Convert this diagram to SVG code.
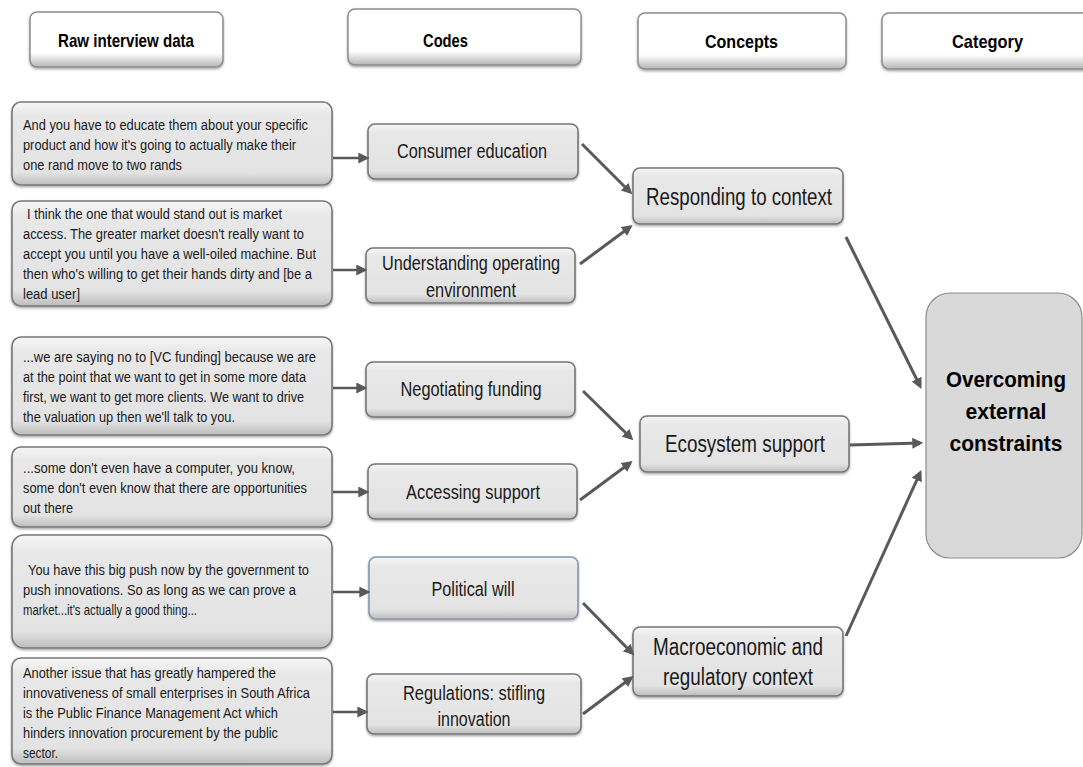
<svg xmlns="http://www.w3.org/2000/svg" width="1083" height="767" viewBox="0 0 1083 767">
<defs>
<linearGradient id="gHead" x1="0" y1="0" x2="0" y2="1">
<stop offset="0" stop-color="#ffffff"/>
<stop offset="0.75" stop-color="#ffffff"/>
<stop offset="1" stop-color="#b5b5b5"/>
</linearGradient>
<linearGradient id="gBox" x1="0" y1="0" x2="0" y2="1">
<stop offset="0" stop-color="#f6f6f6"/>
<stop offset="0.15" stop-color="#e8e8e8"/>
<stop offset="0.85" stop-color="#e3e3e3"/>
<stop offset="1" stop-color="#bdbdbd"/>
</linearGradient>
<filter id="sh" x="-5%" y="-10%" width="110%" height="130%">
<feDropShadow dx="0" dy="1.5" stdDeviation="1.2" flood-color="#000" flood-opacity="0.35"/>
</filter>
<marker id="ah" viewBox="0 0 10 10" refX="7" refY="5" markerWidth="11" markerHeight="11" markerUnits="userSpaceOnUse" orient="auto">
<path d="M0,0 L10,5 L0,10 z" fill="#595959"/>
</marker>
<style>
.hd{fill:url(#gHead);stroke:#8c8c8c;stroke-width:1.5;filter:url(#sh)}
.bx{fill:url(#gBox);stroke:#777777;stroke-width:1.6;filter:url(#sh)}
.ht{font-family:"Liberation Sans Narrow","Liberation Sans",Arial,sans-serif;font-weight:bold;font-size:19px;fill:#000}
.qt{font-family:"Liberation Sans Narrow","Liberation Sans",Arial,sans-serif;font-size:15.5px;fill:#1a1a1a}
.ct{font-family:"Liberation Sans Narrow","Liberation Sans",Arial,sans-serif;font-size:20px;fill:#1a1a1a;text-anchor:middle}
.kt{font-family:"Liberation Sans Narrow","Liberation Sans",Arial,sans-serif;font-size:23px;fill:#1a1a1a;text-anchor:middle}
.bt{font-family:"Liberation Sans Narrow","Liberation Sans",Arial,sans-serif;font-weight:bold;font-size:22px;fill:#000;text-anchor:middle}
.cn line{stroke:#595959;stroke-width:3;marker-end:url(#ah)}
.cn line.s{stroke-width:2.5}
</style>
</defs>

<g id="h-raw"><rect class="hd" x="30" y="12" width="193" height="55" rx="7"/><text class="ht" x="58" y="47" textLength="136" lengthAdjust="spacingAndGlyphs">Raw interview data</text></g>
<g id="h-codes"><rect class="hd" x="348" y="9" width="233" height="56" rx="7"/><text class="ht" x="423" y="47" textLength="45" lengthAdjust="spacingAndGlyphs">Codes</text></g>
<g id="h-concepts"><rect class="hd" x="638" y="13" width="208" height="56" rx="7"/><text class="ht" x="705" y="48" textLength="73" lengthAdjust="spacingAndGlyphs">Concepts</text></g>
<g id="h-category"><rect class="hd" x="882" y="13" width="215" height="56" rx="7"/><text class="ht" x="952" y="48" textLength="71" lengthAdjust="spacingAndGlyphs">Category</text></g>

<g id="q1"><rect class="bx" x="12" y="102" width="320" height="83" rx="9"/>
<text class="qt"><tspan x="23" y="130" textLength="285" lengthAdjust="spacingAndGlyphs">And you have to educate them about your specific</tspan><tspan x="23" y="150" textLength="273" lengthAdjust="spacingAndGlyphs">product and how it's going to actually make their</tspan><tspan x="23" y="170" textLength="159" lengthAdjust="spacingAndGlyphs">one rand move to two rands</tspan></text></g>

<g id="q2"><rect class="bx" x="12" y="201" width="320" height="105" rx="9"/>
<text class="qt"><tspan x="27" y="219" textLength="255" lengthAdjust="spacingAndGlyphs">I think the one that would stand out is market</tspan><tspan x="23" y="239" textLength="281" lengthAdjust="spacingAndGlyphs">access. The greater market doesn't really want to</tspan><tspan x="23" y="259" textLength="293" lengthAdjust="spacingAndGlyphs">accept you until you have a well-oiled machine. But</tspan><tspan x="23" y="279" textLength="289" lengthAdjust="spacingAndGlyphs">then who's willing to get their hands dirty and [be a</tspan><tspan x="23" y="299" textLength="57" lengthAdjust="spacingAndGlyphs">lead user]</tspan></text></g>

<g id="q3"><rect class="bx" x="12" y="337" width="320" height="98" rx="9"/>
<text class="qt"><tspan x="23" y="362" textLength="293" lengthAdjust="spacingAndGlyphs">...we are saying no to [VC funding] because we are</tspan><tspan x="23" y="382" textLength="283" lengthAdjust="spacingAndGlyphs">at the point that we want to get in some more data</tspan><tspan x="23" y="402" textLength="281" lengthAdjust="spacingAndGlyphs">first, we want to get more clients. We want to drive</tspan><tspan x="23" y="422" textLength="212" lengthAdjust="spacingAndGlyphs">the valuation up then we'll talk to you.</tspan></text></g>

<g id="q4"><rect class="bx" x="12" y="447" width="320" height="80" rx="9"/>
<text class="qt"><tspan x="23" y="473" textLength="272" lengthAdjust="spacingAndGlyphs">...some don't even have a computer, you know,</tspan><tspan x="23" y="493" textLength="284" lengthAdjust="spacingAndGlyphs">some don't even know that there are opportunities</tspan><tspan x="23" y="513" textLength="50" lengthAdjust="spacingAndGlyphs">out there</tspan></text></g>

<g id="q5"><rect class="bx" x="12" y="535" width="320" height="113" rx="12"/>
<text class="qt"><tspan x="28" y="575" textLength="281" lengthAdjust="spacingAndGlyphs">You have this big push now by the government to</tspan><tspan x="23" y="595" textLength="273" lengthAdjust="spacingAndGlyphs">push innovations. So as long as we can prove a</tspan><tspan x="23" y="615" textLength="174" lengthAdjust="spacingAndGlyphs">market...it's actually a good thing...</tspan></text></g>

<g id="q6"><rect class="bx" x="12" y="658" width="320" height="106" rx="9"/>
<text class="qt"><tspan x="23" y="678" textLength="253" lengthAdjust="spacingAndGlyphs">Another issue that has greatly hampered the</tspan><tspan x="23" y="698" textLength="287" lengthAdjust="spacingAndGlyphs">innovativeness of small enterprises in South Africa</tspan><tspan x="23" y="718" textLength="255" lengthAdjust="spacingAndGlyphs">is the Public Finance Management Act which</tspan><tspan x="23" y="738" textLength="255" lengthAdjust="spacingAndGlyphs">hinders innovation procurement by the public</tspan><tspan x="23" y="758" textLength="35" lengthAdjust="spacingAndGlyphs">sector.</tspan></text></g>

<g id="c-consumer"><rect class="bx" x="368" y="124" width="210" height="55" rx="7"/><text class="ct" x="472" y="158" textLength="150" lengthAdjust="spacingAndGlyphs">Consumer education</text></g>
<g id="c-understanding"><rect class="bx" x="366" y="248" width="209" height="55" rx="7"/><text class="ct"><tspan x="471" y="270" textLength="178" lengthAdjust="spacingAndGlyphs">Understanding operating</tspan><tspan x="471" y="297" textLength="90" lengthAdjust="spacingAndGlyphs">environment</tspan></text></g>
<g id="c-negotiating"><rect class="bx" x="366" y="362" width="209" height="55" rx="7"/><text class="ct" x="471" y="396" textLength="141" lengthAdjust="spacingAndGlyphs">Negotiating funding</text></g>
<g id="c-accessing"><rect class="bx" x="368" y="464" width="209" height="55" rx="7"/><text class="ct" x="473" y="499" textLength="134" lengthAdjust="spacingAndGlyphs">Accessing support</text></g>
<g id="c-political"><rect class="bx" x="369" y="557" width="209" height="62" rx="7" style="stroke:#8594ad"/><text class="ct" x="473" y="596" textLength="83" lengthAdjust="spacingAndGlyphs">Political will</text></g>
<g id="c-regulations"><rect class="bx" x="367" y="674" width="214" height="60" rx="7"/><text class="ct"><tspan x="474" y="700" textLength="142" lengthAdjust="spacingAndGlyphs">Regulations: stifling</tspan><tspan x="474" y="726" textLength="73" lengthAdjust="spacingAndGlyphs">innovation</tspan></text></g>

<g id="k-responding"><rect class="bx" x="633" y="168" width="210" height="56" rx="7"/><text class="kt" x="739" y="205" textLength="186" lengthAdjust="spacingAndGlyphs">Responding to context</text></g>
<g id="k-ecosystem"><rect class="bx" x="640" y="416" width="209" height="56" rx="7"/><text class="kt" x="745" y="452" textLength="160" lengthAdjust="spacingAndGlyphs">Ecosystem support</text></g>
<g id="k-macro"><rect class="bx" x="633" y="627" width="210" height="69" rx="7"/><text class="kt"><tspan x="738" y="655" textLength="170" lengthAdjust="spacingAndGlyphs">Macroeconomic and</tspan><tspan x="738" y="685" textLength="150" lengthAdjust="spacingAndGlyphs">regulatory context</tspan></text></g>

<g id="cat-overcoming"><rect x="926" y="293" width="156" height="265" rx="24" fill="#d9d9d9" stroke="#8c8c8c" stroke-width="1.2"/>
<text class="bt"><tspan x="1006" y="387" textLength="120" lengthAdjust="spacingAndGlyphs">Overcoming</tspan><tspan x="1006" y="419" textLength="81" lengthAdjust="spacingAndGlyphs">external</tspan><tspan x="1006" y="451" textLength="113" lengthAdjust="spacingAndGlyphs">constraints</tspan></text></g>

<g id="connectors" class="cn">
<line class="s" x1="333" y1="158" x2="366" y2="158"/>
<line class="s" x1="333" y1="270" x2="364" y2="270"/>
<line class="s" x1="333" y1="388" x2="364" y2="388"/>
<line class="s" x1="333" y1="492" x2="366" y2="492"/>
<line class="s" x1="333" y1="592" x2="367" y2="592"/>
<line class="s" x1="333" y1="712" x2="365" y2="712"/>
<line x1="582" y1="144" x2="630" y2="192"/>
<line x1="580" y1="264" x2="630" y2="227"/>
<line x1="583" y1="391" x2="631" y2="438"/>
<line x1="580" y1="500" x2="630" y2="463"/>
<line x1="583" y1="603" x2="632" y2="653"/>
<line x1="583" y1="714" x2="631" y2="678"/>
<line x1="846" y1="237" x2="920" y2="386"/>
<line x1="850" y1="445" x2="920" y2="443"/>
<line x1="846" y1="636" x2="920" y2="473"/>
</g>
</svg>
